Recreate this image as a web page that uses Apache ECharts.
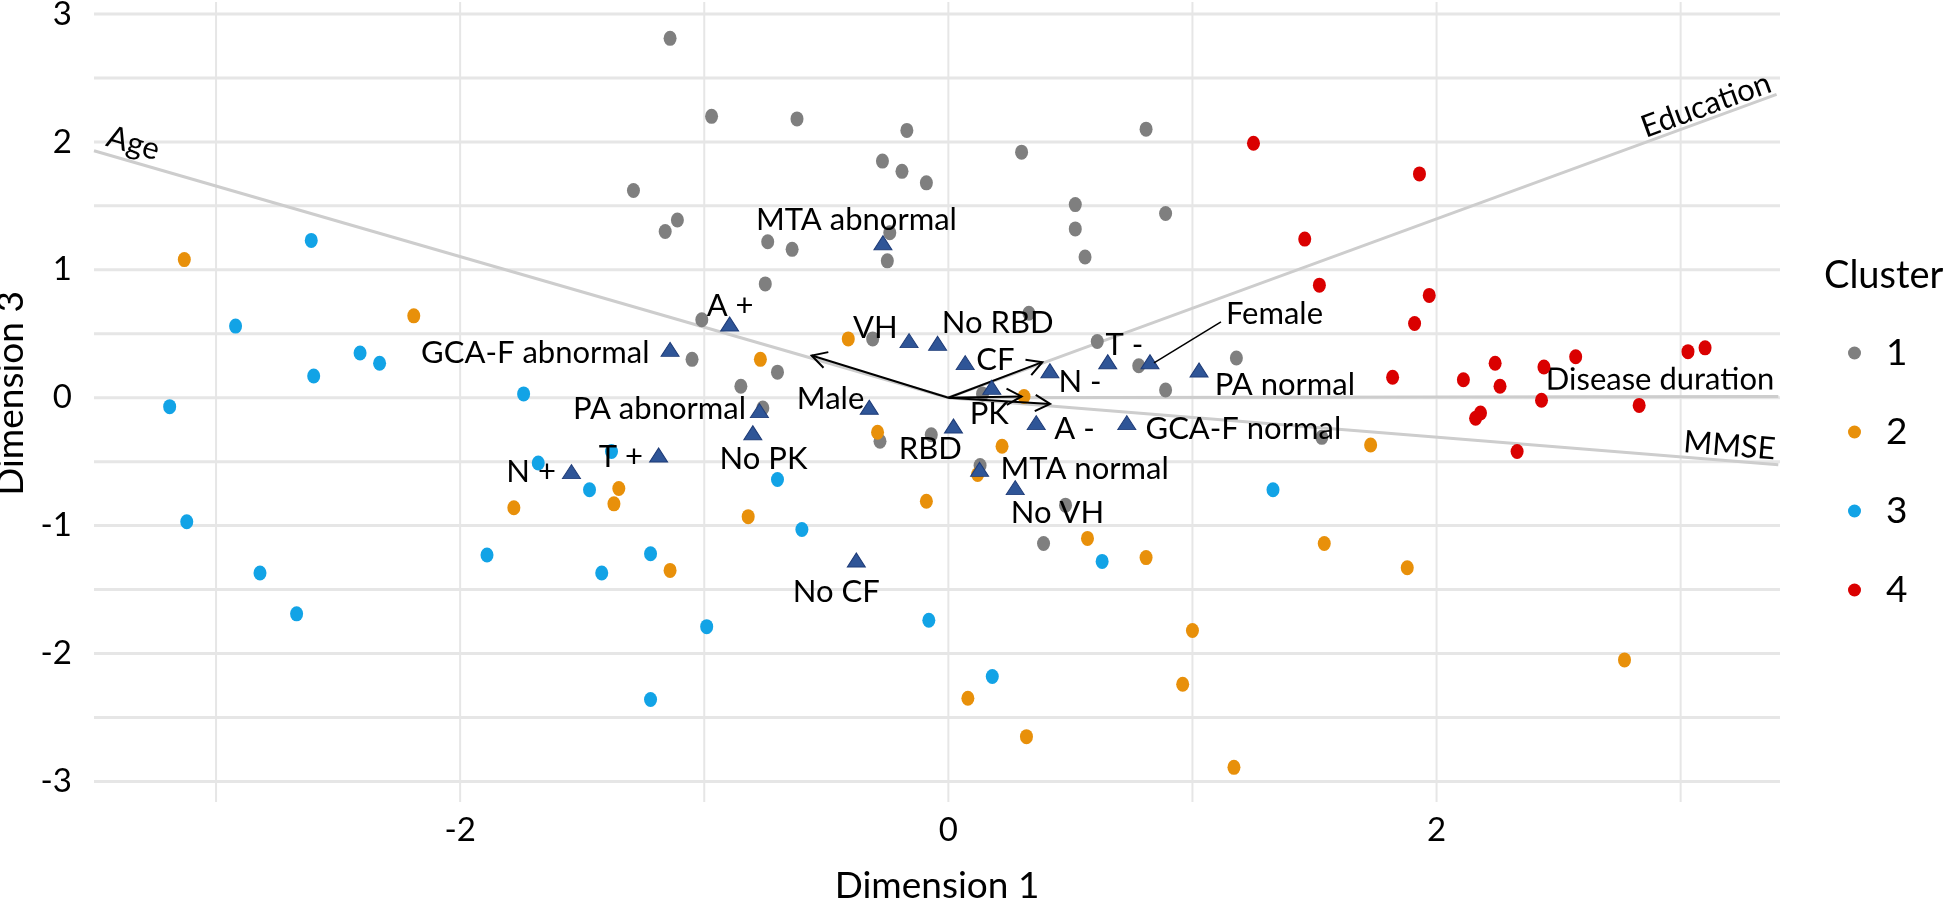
<!DOCTYPE html>
<html><head><meta charset="utf-8">
<script src="https://cdn.jsdelivr.net/npm/echarts@6/dist/echarts.min.js"></script>
<style>html,body{margin:0;padding:0;background:#fff}#c{width:1944px;height:902px}</style>
</head><body><div id="c"></div>
<script>
// ---------------- data ----------------
const clusterNames = ['1', '2', '3', '4'];
const cluster1 = [[-1.14,2.81],[-1.29,1.62],[-1.11,1.39],[-1.16,1.30],[-1.01,0.61],[-1.05,0.30],[-0.97,2.20],[-0.62,2.18],[-0.17,2.09],[-0.27,1.85],[-0.19,1.77],[-0.09,1.68],[0.30,1.92],[0.81,2.10],[0.52,1.51],[0.52,1.32],[0.56,1.10],[0.89,1.44],[-0.74,1.22],[-0.64,1.16],[-0.24,1.29],[-0.25,1.07],[-0.75,0.89],[-0.70,0.20],[-0.85,0.09],[-0.76,-0.08],[-0.31,0.46],[0.33,0.66],[0.61,0.44],[0.78,0.25],[1.18,0.31],[0.89,0.06],[0.14,0.03],[-0.28,-0.34],[-0.07,-0.29],[1.53,-0.31],[0.13,-0.53],[0.48,-0.84],[0.39,-1.14]];
const cluster2 = [[-3.13,1.08],[-2.19,0.64],[-0.77,0.30],[-0.41,0.46],[0.31,0.01],[-0.29,-0.27],[0.22,-0.38],[1.73,-0.37],[1.54,-1.14],[1.88,-1.33],[2.77,-2.05],[0.12,-0.60],[-0.09,-0.81],[-0.82,-0.93],[0.57,-1.10],[0.81,-1.25],[-1.14,-1.35],[1.00,-1.82],[0.08,-2.35],[0.96,-2.24],[0.32,-2.65],[1.17,-2.89],[-1.35,-0.71],[-1.37,-0.83],[-1.78,-0.86]];
const cluster3 = [[-2.61,1.23],[-2.92,0.56],[-2.41,0.35],[-2.33,0.27],[-2.60,0.17],[-3.19,-0.07],[-1.74,0.03],[-1.68,-0.51],[-1.38,-0.42],[-1.47,-0.72],[-3.12,-0.97],[-1.89,-1.23],[-1.22,-1.22],[-1.42,-1.37],[-2.82,-1.37],[-2.67,-1.69],[-1.22,-2.36],[-0.70,-0.64],[-0.60,-1.03],[-0.99,-1.79],[-0.08,-1.74],[0.18,-2.18],[0.63,-1.28],[1.33,-0.72]];
const cluster4 = [[1.25,1.99],[1.46,1.24],[1.52,0.88],[1.93,1.75],[1.97,0.80],[1.91,0.58],[3.03,0.36],[3.10,0.39],[2.57,0.32],[2.44,0.24],[2.24,0.27],[2.26,0.09],[2.11,0.14],[1.82,0.16],[2.43,-0.02],[2.83,-0.06],[2.18,-0.12],[2.16,-0.16],[2.33,-0.42]];

const categoryNames = ['MTA abnormal','A +','GCA-F abnormal','VH','No RBD','CF','N -','T -','Female','PA normal','PK','Male','PA abnormal','No PK','RBD','A -','GCA-F normal','MTA normal','No VH','No CF','N +','T +'];
const categoryX = [-0.268,-0.896,-1.140,-0.161,-0.044,0.069,0.416,0.653,0.826,1.027,0.178,-0.324,-0.774,-0.801,0.021,0.360,0.731,0.128,0.274,-0.377,-1.544,-1.187];
const categoryY = [1.212,0.576,0.378,0.446,0.425,0.274,0.211,0.281,0.281,0.217,0.081,-0.075,-0.101,-0.274,-0.221,-0.195,-0.195,-0.560,-0.703,-1.269,-0.578,-0.448];

const supNames = ['Age', 'Education', 'Disease duration', 'MMSE'];
const supX = [-3.50, 3.393, 3.40, 3.40];
const supY = [1.931, 2.372, 0.01, -0.525];
const arrowX = [-0.56, 0.385, 0.30, 0.417];
const arrowY = [0.33, 0.278, 0.01, -0.049];

const xTickLabels = [-2, 0, 2];
const yTickLabels = [-3, -2, -1, 0, 1, 2, 3];
const xGridValues = [-3, -2, -1, 0, 1, 2, 3];
const yGridValues = [-3, -2.5, -2, -1.5, -1, -0.5, 0, 0.5, 1, 1.5, 2, 2.5, 3];

// ---------------- styles ----------------
const FONT = 'Lato';
const LABEL_FONT = '31px ' + FONT;
const clusterColors = ['#7F7F7F', '#E8900A', '#12A3E6', '#DA0000'];
const ELLIPSE = 'path://M0,-1A1,1,0,1,1,0,1A1,1,0,1,1,0,-1Z';
// label placement: [dx, dy, align] relative to triangle centre (px)
const catLabelStyle = {
  'MTA abnormal': [-26.5, -22.5, 'center'],
  'A +': [0.5, -18.5, 'center'],
  'GCA-F abnormal': [-20.5, 3.5, 'right'],
  'VH': [-11.4, -12.5, 'right'],
  'No RBD': [4.2, -20, 'left'],
  'CF': [11, -2.4, 'left'],
  'N -': [8.5, 11.3, 'left'],
  'T -': [-2.2, -16.5, 'left'],
  'Female': [75.9, -47.5, 'left', true],
  'PA normal': [15.6, 14.7, 'left'],
  'PK': [-2.5, 26.4, 'center'],
  'Male': [-5, -8.6, 'right'],
  'PA abnormal': [-13.4, -2, 'right'],
  'No PK': [10.7, 26, 'center'],
  'RBD': [-23.2, 23.5, 'center'],
  'A -': [18, 6.8, 'left'],
  'GCA-F normal': [18.7, 6.8, 'left'],
  'MTA normal': [20.9, -0.3, 'left'],
  'No VH': [-4.5, 25, 'left'],
  'No CF': [-20, 32, 'center'],
  'N +': [-15.6, 0, 'right'],
  'T +': [-15.6, 2, 'right']
};
const supLabelStyle = {
  'Age': {inset: 9, lift: 18},
  'Education': {inset: 2, lift: 14},
  'Disease duration': {inset: 4, lift: 17},
  'MMSE': {inset: 4, lift: 15}
};

const chart = echarts.init(document.getElementById('c'), null, {renderer: 'canvas'});

const clusterData = [cluster1, cluster2, cluster3, cluster4];
const clusterSeries = clusterNames.map((n, i) => ({
  name: n, type: 'scatter', z: 3,
  symbol: ELLIPSE, symbolSize: [13, 15],
  itemStyle: {color: clusterColors[i], opacity: 1},
  data: clusterData[i]
}));

const option = {
  animation: false,
  backgroundColor: '#ffffff',
  textStyle: {fontFamily: FONT},
  title: {
    text: 'Cluster', left: 1824, top: 255, padding: 0,
    textStyle: {fontSize: 38, fontFamily: FONT, fontWeight: 'normal', color: '#000', lineHeight: 42}
  },
  legend: {
    data: clusterNames, orient: 'vertical', left: 1848, top: 334.5, padding: 0,
    itemWidth: 13, itemHeight: 15, itemGap: 42, icon: ELLIPSE,
    selectedMode: false,
    textStyle: {fontSize: 37, fontFamily: FONT, color: '#000', lineHeight: 15, padding: [0, 0, 0, 20]}
  },
  grid: {left: 94, right: 164, top: 2, bottom: 100, containLabel: false, outerBoundsMode: 'none'},
  xAxis: {
    type: 'value', min: -3.5, max: 3.407,
    axisLine: {show: false}, axisTick: {show: false}, splitLine: {show: false},
    axisLabel: {customValues: xTickLabels, fontSize: 33, fontFamily: FONT, color: '#000', margin: 12},
    name: 'Dimension 1', nameLocation: 'middle', nameGap: 66,
    nameTextStyle: {fontSize: 37, fontFamily: FONT, color: '#000'}
  },
  yAxis: {
    type: 'value', min: -3.161, max: 3.094,
    axisLine: {show: false}, axisTick: {show: false}, splitLine: {show: false},
    axisLabel: {customValues: yTickLabels, fontSize: 33, fontFamily: FONT, color: '#000', margin: 22},
    name: 'Dimension 3', nameLocation: 'middle', nameGap: 56, nameRotate: 90,
    nameTextStyle: {fontSize: 37, fontFamily: FONT, color: '#000', padding: [0, 0, 0, 17]}
  },
  series: [
    {
      type: 'custom', name: 'vgrid', silent: true, z: 0,
      data: xGridValues.map(v => [v, 0]),
      renderItem(params, api) {
        const cs = params.coordSys;
        const x = api.coord([api.value(0), 0])[0];
        return {type: 'line', shape: {x1: x, y1: cs.y, x2: x, y2: cs.y + cs.height},
          style: {stroke: '#E6E6E6', lineWidth: 2}};
      }
    },
    {
      type: 'custom', name: 'hgrid', silent: true, z: 0,
      data: yGridValues.map(v => [0, v]),
      renderItem(params, api) {
        const cs = params.coordSys;
        const y = api.coord([0, api.value(1)])[1];
        return {type: 'line', shape: {x1: cs.x, y1: y, x2: cs.x + cs.width, y2: y},
          style: {stroke: '#E6E6E6', lineWidth: 3}};
      }
    },
    {
      type: 'custom', name: 'supplementary', silent: true, z: 1,
      data: supX.map((x, i) => [x, supY[i]]),
      renderItem(params, api) {
        const i = params.dataIndex;
        const p0 = api.coord([0, 0]);
        const p1 = api.coord([api.value(0), api.value(1)]);
        const dx = p1[0] - p0[0], dy = p1[1] - p0[1];
        const L = Math.hypot(dx, dy);
        const ux = dx / L, uy = dy / L;
        const flip = ux < 0;
        const tx = flip ? -ux : ux, ty = flip ? -uy : uy;
        const nx = ty, ny = -tx;
        const st = supLabelStyle[supNames[i]];
        const ax = p1[0] - ux * st.inset + nx * st.lift;
        const ay = p1[1] - uy * st.inset + ny * st.lift;
        return {type: 'group', children: [
          {type: 'line', shape: {x1: p0[0], y1: p0[1], x2: p1[0], y2: p1[1]},
            style: {stroke: '#CDCDCD', lineWidth: 3}},
          {type: 'text', x: ax, y: ay, rotation: Math.atan2(-ty, tx), z2: 10,
            style: {text: supNames[i], x: 0, y: 0, align: flip ? 'left' : 'right', verticalAlign: 'middle',
              font: LABEL_FONT, fill: '#000'}}
        ]};
      }
    },
    ...clusterSeries,
    {
      type: 'custom', name: 'arrows', silent: true, z: 4,
      data: arrowX.map((x, i) => [x, arrowY[i]]),
      renderItem(params, api) {
        const p0 = api.coord([0, 0]);
        const p1 = api.coord([api.value(0), api.value(1)]);
        const a = Math.atan2(p1[1] - p0[1], p1[0] - p0[0]);
        const h = 17, w = 0.5;
        const h1 = [p1[0] - h * Math.cos(a - w), p1[1] - h * Math.sin(a - w)];
        const h2 = [p1[0] - h * Math.cos(a + w), p1[1] - h * Math.sin(a + w)];
        return {type: 'group', children: [
          {type: 'line', shape: {x1: p0[0], y1: p0[1], x2: p1[0], y2: p1[1]}, style: {stroke: '#000', lineWidth: 2}},
          {type: 'polyline', shape: {points: [h1, p1, h2]}, style: {stroke: '#000', lineWidth: 2, fill: null}}
        ]};
      }
    },
    {
      type: 'scatter', name: 'categories', z: 5, silent: true,
      symbol: 'triangle', symbolSize: [18, 14],
      itemStyle: {color: '#2F5597', borderColor: '#1F3C78', borderWidth: 1, opacity: 1},
      data: categoryX.map((x, i) => [x, categoryY[i]])
    },
    {
      type: 'custom', name: 'catLabels', silent: true, z: 6,
      data: categoryX.map((x, i) => [x, categoryY[i]]),
      renderItem(params, api) {
        const name = categoryNames[params.dataIndex];
        const st = catLabelStyle[name];
        const p = api.coord([api.value(0), api.value(1)]);
        const children = [{type: 'text', x: p[0] + st[0], y: p[1] + st[1],
          style: {text: name, align: st[2], verticalAlign: 'middle', font: LABEL_FONT, fill: '#000'}}];
        if (st[3]) {
          children.push({type: 'line', shape: {x1: p[0] + 4, y1: p[1] + 1, x2: p[0] + 71, y2: p[1] - 40},
            style: {stroke: '#000', lineWidth: 1.5}});
        }
        return {type: 'group', children};
      }
    }
  ]
};
chart.setOption(option);
</script>
</body></html>
